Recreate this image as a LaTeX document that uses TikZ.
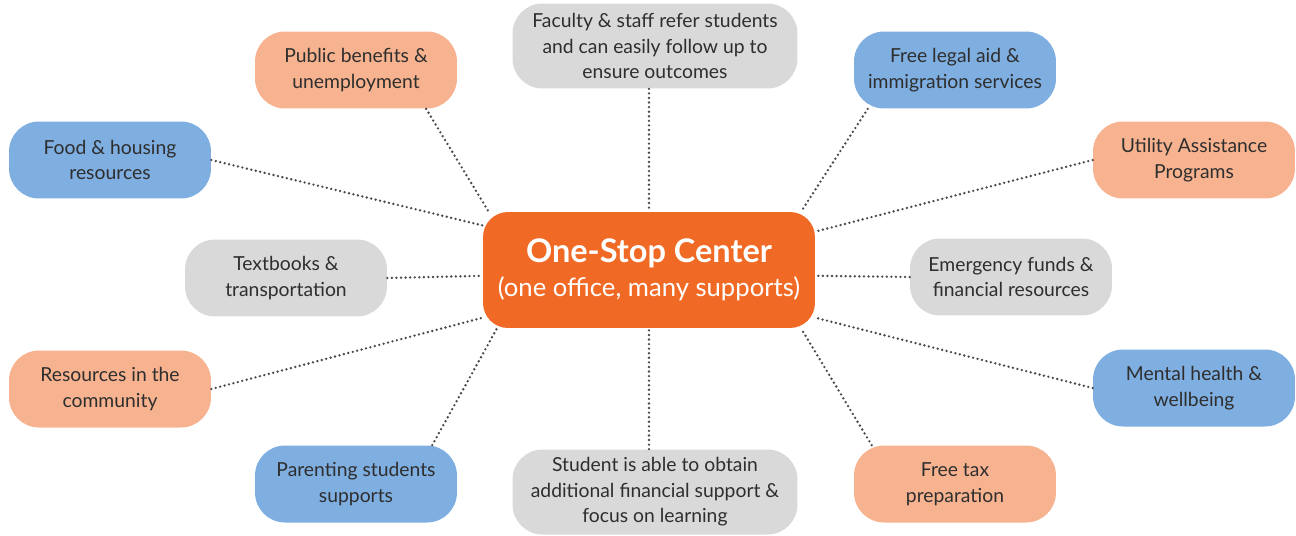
\documentclass[tikz,border=0pt]{standalone}
\usepackage{fontspec}
\setmainfont{Lato}
\usetikzlibrary{calc}
\definecolor{corange}{HTML}{F06A25}
\definecolor{csalmon}{HTML}{F7B390}
\definecolor{cblue}{HTML}{7FAEE0}
\definecolor{cgray}{HTML}{D9D9D9}
\definecolor{ctext}{HTML}{2E2E2E}
\definecolor{cdot}{HTML}{4A4A4A}
\begin{document}
\begin{tikzpicture}[x=0.02cm,y=-0.02cm,
  box/.style={rounded corners=0.6cm, minimum width=4.04cm, minimum height=1.54cm,
    align=center, text=ctext, font=\fontsize{11}{14.5}\selectfont, inner sep=0pt},
  sbox/.style={box, fill=csalmon},
  bbox/.style={box, fill=cblue},
  gbox/.style={box, fill=cgray},
  wbox/.style={gbox, minimum width=5.7cm, minimum height=1.7cm},
  link/.style={draw=cdot, line width=1.5pt, line cap=round, dash pattern=on 0pt off 2.6pt}
]
\useasboundingbox (0,0) rectangle (1296,535);
\node[fill=corange, rounded corners=0.5cm, minimum width=6.64cm, minimum height=2.32cm,
  align=center, text=white, inner sep=0pt] (c) at (649,270)
  {{\fontsize{18.5}{22}\selectfont\bfseries One-Stop Center}\\[4pt]
   {\fontsize{14.6}{17}\selectfont (one office, many supports)}};
\node[sbox] (pub) at (356,70) {Public benefits \&\\unemployment};
\node[bbox] (food) at (110,160) {Food \& housing\\resources};
\node[wbox] (fac) at (655,46) {Faculty \& staff refer students\\and can easily follow up to\\ensure outcomes};
\node[bbox] (legal) at (955,70) {Free legal aid \&\\immigration services};
\node[sbox] (util) at (1194,160) {Utility Assistance\\Programs};
\node[gbox] (tb) at (286,278) {Textbooks \&\\transportation};
\node[gbox] (em) at (1011,277) {Emergency funds \&\\financial resources};
\node[sbox] (res) at (110,389) {Resources in the\\community};
\node[bbox] (mh) at (1194,388) {Mental health \&\\wellbeing};
\node[bbox] (par) at (356,484) {Parenting students\\supports};
\node[wbox] (stu) at (655,492) {Student is able to obtain\\additional financial support \&\\focus on learning};
\node[sbox] (tax) at (955,484) {Free tax\\preparation};

\draw[link] (food.east) -- (c.165);
\draw[link] (pub.-29) -- (c.160);
\draw[link] (fac.south -| c.north) -- (c.north);
\draw[link] (legal.204) -- (c.21);
\draw[link] (util.west) -- (c.13.5);
\draw[link] (tb.east) -- (c.182.4);
\draw[link] (em.west) -- (c.-2.4);
\draw[link] (res.east) -- (c.196);
\draw[link] (mh.west) -- (c.-16.8);
\draw[link] (par.27) -- (c.201.3);
\draw[link] (stu.north -| c.south) -- (c.south);
\draw[link] (tax.155) -- (c.-21);
\end{tikzpicture}
\end{document}
